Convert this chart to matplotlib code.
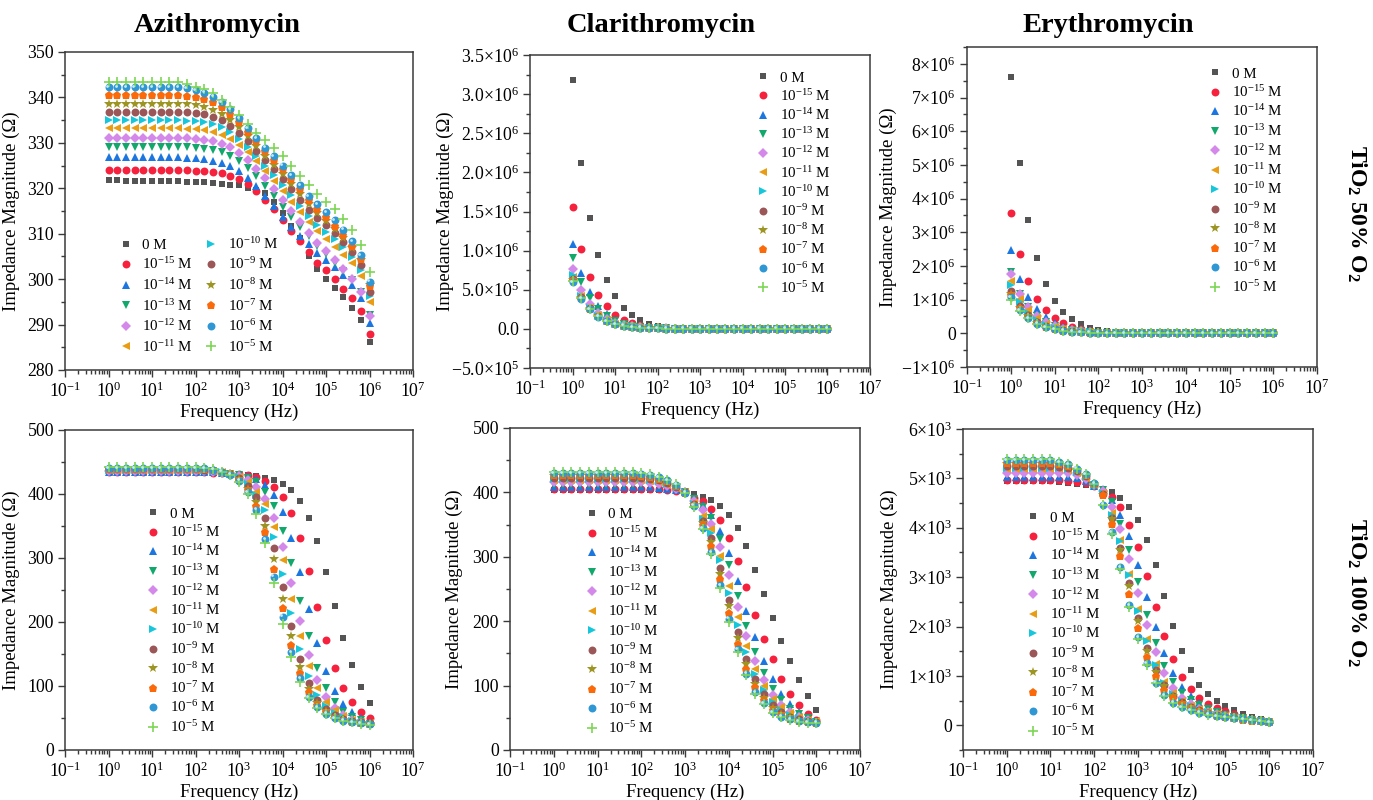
import numpy as np
import matplotlib
matplotlib.use('Agg')
import matplotlib.pyplot as plt
from matplotlib.ticker import MultipleLocator, LogLocator, FuncFormatter, NullFormatter
from matplotlib.transforms import ScaledTranslation

plt.rcParams['font.family'] = ['Liberation Serif', 'DejaVu Serif']
plt.rcParams['mathtext.fontset'] = 'custom'
plt.rcParams['mathtext.rm'] = 'Liberation Serif'
plt.rcParams['mathtext.it'] = 'Liberation Serif:italic'
plt.rcParams['mathtext.bf'] = 'Liberation Serif:bold'

# ---------------- data ----------------
freq = [1.0, 1.585, 2.512, 3.981, 6.310, 10.0, 15.85, 25.12, 39.81, 63.10,
        100.0, 158.5, 251.2, 398.1, 631.0, 1000.0, 1585.0, 2512.0, 3981.0, 6310.0,
        1.0e4, 1.585e4, 2.512e4, 3.981e4, 6.310e4, 1.0e5, 1.585e5, 2.512e5, 3.981e5, 6.310e5, 1.0e6]

conc_labels = ['0 M', '10$^{-15}$ M', '10$^{-14}$ M', '10$^{-13}$ M', '10$^{-12}$ M', '10$^{-11}$ M',
               '10$^{-10}$ M', '10$^{-9}$ M', '10$^{-8}$ M', '10$^{-7}$ M', '10$^{-6}$ M', '10$^{-5}$ M']

drug_titles = ['Azithromycin', 'Clarithromycin', 'Erythromycin']
row_titles = ['TiO$_\\mathbf{2}$ 50% O$_\\mathbf{2}$', 'TiO$_\\mathbf{2}$ 100% O$_\\mathbf{2}$']

# Azithromycin, TiO2 50% O2 (Ohm)
az50 = [
    [321.8, 321.8, 321.7, 321.7, 321.7, 321.6, 321.6, 321.5, 321.5, 321.4, 321.4, 321.3, 321.2, 321.0, 320.8, 320.7, 320.1, 319.6, 318.9, 317.0, 314.5, 311.8, 309.0, 305.2, 302.2, 300.0, 298.1, 296.0, 293.7, 291.1, 286.2],
    [324.0, 324.0, 324.0, 324.0, 324.0, 324.0, 324.0, 324.0, 324.0, 324.0, 323.9, 323.8, 323.6, 323.3, 322.8, 322.0, 320.9, 319.4, 317.5, 315.4, 313.0, 310.6, 308.3, 306.0, 303.5, 302.0, 300.0, 297.9, 295.8, 293.0, 287.9],
    [326.8, 326.8, 326.8, 326.8, 326.8, 326.8, 326.8, 326.8, 326.8, 326.7, 326.6, 326.4, 326.1, 325.6, 324.8, 323.7, 322.2, 320.4, 318.3, 316.0, 313.6, 311.5, 309.5, 307.7, 305.8, 304.3, 302.7, 300.9, 298.7, 295.8, 290.4],
    [329.1, 329.1, 329.1, 329.1, 329.1, 329.1, 329.1, 329.1, 329.1, 329.0, 328.9, 328.7, 328.4, 327.9, 327.1, 326.0, 324.5, 322.6, 320.5, 318.2, 315.8, 313.6, 311.5, 309.5, 307.3, 305.5, 303.6, 301.8, 299.8, 297.2, 292.1],
    [331.1, 331.1, 331.1, 331.1, 331.1, 331.1, 331.1, 331.1, 331.1, 331.0, 330.9, 330.7, 330.4, 329.8, 329.0, 327.8, 326.2, 324.3, 322.2, 319.9, 317.5, 315.0, 312.5, 310.2, 308.0, 306.1, 304.2, 302.2, 300.0, 297.2, 291.9],
    [333.2, 333.2, 333.2, 333.2, 333.2, 333.2, 333.2, 333.2, 333.2, 333.1, 333.0, 332.8, 332.4, 331.8, 330.9, 329.6, 327.9, 325.9, 323.8, 321.6, 319.3, 317.0, 314.7, 312.5, 310.6, 308.9, 307.1, 305.4, 303.6, 300.6, 295.0],
    [335.0, 335.0, 335.0, 335.0, 335.0, 335.0, 335.0, 335.0, 335.0, 334.9, 334.8, 334.5, 334.1, 333.4, 332.4, 330.9, 329.1, 327.1, 325.0, 322.9, 320.7, 318.5, 316.2, 314.0, 312.0, 310.4, 308.8, 307.0, 304.8, 302.0, 296.2],
    [336.9, 336.9, 336.9, 336.9, 336.9, 336.9, 336.9, 336.9, 336.9, 336.8, 336.6, 336.3, 335.8, 335.0, 333.8, 332.2, 330.3, 328.3, 326.2, 324.2, 322.0, 319.8, 317.5, 315.3, 313.4, 312.0, 310.2, 308.2, 306.0, 303.1, 297.2],
    [338.6, 338.6, 338.6, 338.6, 338.6, 338.6, 338.6, 338.6, 338.6, 338.5, 338.3, 337.9, 337.3, 336.4, 335.1, 333.4, 331.4, 329.3, 327.2, 325.2, 323.2, 321.0, 318.8, 316.5, 314.6, 312.8, 311.0, 309.0, 306.8, 304.3, 298.7],
    [340.5, 340.5, 340.5, 340.5, 340.5, 340.5, 340.5, 340.5, 340.5, 340.4, 340.1, 339.6, 338.9, 337.9, 336.4, 334.5, 332.4, 330.3, 328.2, 326.2, 324.2, 322.0, 319.8, 317.4, 315.5, 313.6, 311.8, 309.7, 307.3, 304.5, 298.6],
    [342.2, 342.2, 342.2, 342.2, 342.2, 342.2, 342.2, 342.2, 342.2, 342.0, 341.6, 341.0, 340.2, 339.0, 337.4, 335.4, 333.2, 331.0, 328.9, 327.1, 325.0, 322.9, 320.7, 318.3, 316.5, 314.7, 313.0, 310.9, 308.4, 305.3, 299.4],
    [343.5, 343.5, 343.5, 343.5, 343.5, 343.5, 343.5, 343.5, 343.5, 343.0, 342.4, 341.8, 340.9, 339.5, 338.0, 336.2, 334.1, 332.2, 330.6, 328.8, 327.2, 325.0, 322.8, 320.7, 318.7, 317.0, 315.4, 313.2, 310.8, 307.5, 301.6],
]

# Clarithromycin, TiO2 50% O2 (x10^6 Ohm)
cl50 = [
    [3.18, 2.12, 1.42, 0.945, 0.628, 0.414, 0.273, 0.175, 0.115, 0.068, 0.040, 0.025, 0.016, 0.010, 0.0065, 0.0042, 0.0027, 0.0017, 0.0011, 0.0007, 0.0005, 0.0003, 0.0002, 0.0001, 0.0001, 0.0001, 0.0, 0.0, 0.0, 0.0, 0.0],
    [1.555, 1.02, 0.667, 0.436, 0.286, 0.180, 0.115, 0.070, 0.045, 0.028, 0.018, 0.011, 0.007, 0.0045, 0.003, 0.002, 0.0012, 0.0008, 0.0005, 0.0003, 0.0002, 0.0001, 0.0001, 0.0, 0.0, 0.0, 0.0, 0.0, 0.0, 0.0, 0.0],
    [1.085, 0.714, 0.466, 0.295, 0.188, 0.118, 0.074, 0.046, 0.029, 0.018, 0.011, 0.007, 0.0045, 0.003, 0.002, 0.0012, 0.0008, 0.0005, 0.0003, 0.0002, 0.0001, 0.0001, 0.0, 0.0, 0.0, 0.0, 0.0, 0.0, 0.0, 0.0, 0.0],
    [0.906, 0.594, 0.389, 0.252, 0.160, 0.100, 0.063, 0.040, 0.025, 0.016, 0.010, 0.006, 0.004, 0.0025, 0.0016, 0.001, 0.0006, 0.0004, 0.0002, 0.0001, 0.0001, 0.0, 0.0, 0.0, 0.0, 0.0, 0.0, 0.0, 0.0, 0.0, 0.0],
    [0.765, 0.496, 0.316, 0.200, 0.128, 0.081, 0.051, 0.032, 0.020, 0.013, 0.008, 0.005, 0.003, 0.002, 0.0013, 0.0008, 0.0005, 0.0003, 0.0002, 0.0001, 0.0001, 0.0, 0.0, 0.0, 0.0, 0.0, 0.0, 0.0, 0.0, 0.0, 0.0],
    [0.660, 0.420, 0.270, 0.172, 0.108, 0.068, 0.043, 0.027, 0.017, 0.011, 0.007, 0.0045, 0.003, 0.002, 0.0012, 0.0008, 0.0005, 0.0003, 0.0002, 0.0001, 0.0001, 0.0, 0.0, 0.0, 0.0, 0.0, 0.0, 0.0, 0.0, 0.0, 0.0],
    [0.690, 0.425, 0.272, 0.170, 0.106, 0.066, 0.042, 0.026, 0.016, 0.010, 0.0065, 0.004, 0.0026, 0.0016, 0.001, 0.0007, 0.0004, 0.0003, 0.0002, 0.0001, 0.0001, 0.0, 0.0, 0.0, 0.0, 0.0, 0.0, 0.0, 0.0, 0.0, 0.0],
    [0.640, 0.405, 0.262, 0.166, 0.104, 0.065, 0.041, 0.026, 0.016, 0.010, 0.0064, 0.004, 0.0025, 0.0016, 0.001, 0.0006, 0.0004, 0.0003, 0.0002, 0.0001, 0.0001, 0.0, 0.0, 0.0, 0.0, 0.0, 0.0, 0.0, 0.0, 0.0, 0.0],
    [0.620, 0.395, 0.258, 0.163, 0.102, 0.064, 0.040, 0.025, 0.016, 0.010, 0.0063, 0.004, 0.0025, 0.0016, 0.001, 0.0006, 0.0004, 0.0003, 0.0002, 0.0001, 0.0001, 0.0, 0.0, 0.0, 0.0, 0.0, 0.0, 0.0, 0.0, 0.0, 0.0],
    [0.630, 0.398, 0.258, 0.163, 0.102, 0.064, 0.040, 0.025, 0.016, 0.010, 0.0063, 0.004, 0.0025, 0.0016, 0.001, 0.0006, 0.0004, 0.0003, 0.0002, 0.0001, 0.0001, 0.0, 0.0, 0.0, 0.0, 0.0, 0.0, 0.0, 0.0, 0.0, 0.0],
    [0.600, 0.385, 0.250, 0.158, 0.099, 0.062, 0.039, 0.024, 0.015, 0.0095, 0.006, 0.0038, 0.0024, 0.0015, 0.001, 0.0006, 0.0004, 0.0002, 0.0001, 0.0001, 0.0, 0.0, 0.0, 0.0, 0.0, 0.0, 0.0, 0.0, 0.0, 0.0, 0.0],
    [0.610, 0.390, 0.252, 0.160, 0.100, 0.063, 0.040, 0.025, 0.0155, 0.0098, 0.0062, 0.0039, 0.0025, 0.0016, 0.001, 0.0006, 0.0004, 0.0002, 0.0001, 0.0001, 0.0, 0.0, 0.0, 0.0, 0.0, 0.0, 0.0, 0.0, 0.0, 0.0, 0.0],
]

# Erythromycin, TiO2 50% O2 (x10^6 Ohm)
er50 = [
    [7.62, 5.07, 3.37, 2.23, 1.46, 0.96, 0.64, 0.42, 0.27, 0.17, 0.11, 0.07, 0.045, 0.03, 0.02, 0.012, 0.008, 0.005, 0.003, 0.002, 0.001, 0.0007, 0.0004, 0.0002, 0.0001, 0.0, 0.0, 0.0, 0.0, 0.0, 0.0],
    [3.57, 2.35, 1.56, 1.03, 0.69, 0.46, 0.30, 0.19, 0.12, 0.08, 0.05, 0.03, 0.02, 0.013, 0.008, 0.005, 0.003, 0.002, 0.001, 0.0006, 0.0004, 0.0002, 0.0001, 0.0, 0.0, 0.0, 0.0, 0.0, 0.0, 0.0, 0.0],
    [2.46, 1.62, 1.07, 0.71, 0.47, 0.30, 0.19, 0.12, 0.08, 0.05, 0.03, 0.02, 0.013, 0.008, 0.005, 0.003, 0.002, 0.001, 0.0006, 0.0004, 0.0002, 0.0001, 0.0, 0.0, 0.0, 0.0, 0.0, 0.0, 0.0, 0.0, 0.0],
    [1.81, 1.18, 0.78, 0.51, 0.33, 0.21, 0.14, 0.09, 0.055, 0.035, 0.022, 0.014, 0.009, 0.006, 0.004, 0.0025, 0.0015, 0.001, 0.0006, 0.0004, 0.0002, 0.0001, 0.0, 0.0, 0.0, 0.0, 0.0, 0.0, 0.0, 0.0, 0.0],
    [1.75, 1.16, 0.79, 0.52, 0.34, 0.22, 0.14, 0.09, 0.058, 0.037, 0.024, 0.015, 0.01, 0.006, 0.004, 0.0025, 0.0015, 0.001, 0.0006, 0.0004, 0.0002, 0.0001, 0.0, 0.0, 0.0, 0.0, 0.0, 0.0, 0.0, 0.0, 0.0],
    [1.56, 1.03, 0.68, 0.44, 0.29, 0.19, 0.12, 0.08, 0.05, 0.032, 0.02, 0.013, 0.008, 0.005, 0.003, 0.002, 0.001, 0.0006, 0.0004, 0.0002, 0.0001, 0.0, 0.0, 0.0, 0.0, 0.0, 0.0, 0.0, 0.0, 0.0, 0.0],
    [1.43, 0.93, 0.61, 0.40, 0.26, 0.17, 0.11, 0.07, 0.045, 0.029, 0.018, 0.012, 0.007, 0.0045, 0.003, 0.002, 0.001, 0.0006, 0.0004, 0.0002, 0.0001, 0.0, 0.0, 0.0, 0.0, 0.0, 0.0, 0.0, 0.0, 0.0, 0.0],
    [1.26, 0.81, 0.53, 0.34, 0.22, 0.14, 0.09, 0.058, 0.037, 0.024, 0.015, 0.01, 0.006, 0.004, 0.0025, 0.0015, 0.001, 0.0006, 0.0004, 0.0002, 0.0001, 0.0, 0.0, 0.0, 0.0, 0.0, 0.0, 0.0, 0.0, 0.0, 0.0],
    [1.18, 0.76, 0.50, 0.32, 0.21, 0.13, 0.085, 0.055, 0.035, 0.022, 0.014, 0.009, 0.006, 0.004, 0.0025, 0.0015, 0.001, 0.0006, 0.0004, 0.0002, 0.0001, 0.0, 0.0, 0.0, 0.0, 0.0, 0.0, 0.0, 0.0, 0.0, 0.0],
    [1.15, 0.74, 0.49, 0.31, 0.20, 0.13, 0.083, 0.053, 0.034, 0.022, 0.014, 0.009, 0.006, 0.004, 0.0025, 0.0015, 0.001, 0.0006, 0.0004, 0.0002, 0.0001, 0.0, 0.0, 0.0, 0.0, 0.0, 0.0, 0.0, 0.0, 0.0, 0.0],
    [1.08, 0.69, 0.45, 0.29, 0.19, 0.12, 0.078, 0.05, 0.032, 0.02, 0.013, 0.008, 0.005, 0.0035, 0.002, 0.0013, 0.0008, 0.0005, 0.0003, 0.0002, 0.0001, 0.0, 0.0, 0.0, 0.0, 0.0, 0.0, 0.0, 0.0, 0.0, 0.0],
    [1.00, 0.67, 0.44, 0.28, 0.18, 0.115, 0.074, 0.048, 0.03, 0.019, 0.012, 0.008, 0.005, 0.0033, 0.002, 0.0013, 0.0008, 0.0005, 0.0003, 0.0002, 0.0001, 0.0, 0.0, 0.0, 0.0, 0.0, 0.0, 0.0, 0.0, 0.0, 0.0],
]

# Azithromycin, TiO2 100% O2 (Ohm)
az100 = [
    [433.0, 433.0, 433.0, 433.0, 433.0, 433.0, 433.0, 433.0, 433.0, 433.0, 433.0, 433.0, 432.5, 432.0, 431.5, 431.0, 429.5, 427.7, 425.6, 422.5, 416.0, 405.7, 389.0, 362.7, 326.0, 278.8, 225.3, 175.0, 133.2, 99.0, 73.9],
    [434.0, 434.0, 434.0, 434.0, 434.0, 434.0, 434.0, 434.0, 434.0, 434.0, 434.0, 434.0, 433.5, 432.5, 431.5, 430.5, 430.0, 426.6, 421.0, 411.0, 395.0, 370.0, 330.7, 280.0, 223.7, 171.4, 127.9, 96.4, 74.4, 59.7, 49.3],
    [435.0, 435.0, 435.0, 435.0, 435.0, 435.0, 435.0, 435.0, 435.0, 435.0, 435.0, 435.0, 434.5, 433.0, 431.5, 430.0, 428.0, 424.0, 413.5, 397.8, 371.5, 331.3, 278.8, 219.6, 166.7, 123.7, 92.8, 71.9, 58.6, 50.3, 44.0],
    [437.0, 437.0, 437.0, 437.0, 437.0, 437.0, 437.0, 437.0, 437.0, 437.0, 437.0, 436.5, 435.5, 433.5, 431.5, 429.0, 425.0, 418.7, 403.0, 380.5, 342.8, 292.0, 232.7, 177.7, 128.9, 96.4, 74.4, 59.7, 51.9, 46.7, 41.4],
    [435.5, 435.5, 435.5, 435.5, 435.5, 435.5, 435.5, 435.5, 435.5, 435.5, 435.5, 435.5, 434.5, 433.0, 431.0, 428.0, 422.0, 410.8, 392.6, 362.7, 317.6, 260.5, 201.3, 148.9, 109.6, 82.2, 65.0, 54.5, 47.6, 44.0, 41.4],
    [437.5, 437.5, 437.5, 437.5, 437.5, 437.5, 437.5, 437.5, 437.5, 437.5, 437.5, 437.0, 436.0, 434.0, 431.0, 427.0, 418.0, 403.0, 384.7, 349.0, 296.6, 235.3, 177.7, 130.5, 96.4, 75.5, 62.4, 53.5, 47.6, 44.0, 42.0],
    [438.0, 438.0, 438.0, 438.0, 438.0, 438.0, 438.0, 438.0, 438.0, 438.0, 438.0, 437.5, 436.5, 434.0, 431.0, 426.0, 416.0, 398.0, 375.3, 332.2, 275.7, 213.4, 158.3, 116.4, 86.0, 68.7, 58.2, 51.4, 46.0, 42.5, 41.0],
    [438.5, 438.5, 438.5, 438.5, 438.5, 438.5, 438.5, 438.5, 438.5, 438.5, 438.5, 438.0, 437.0, 434.5, 431.0, 425.0, 412.0, 395.0, 362.7, 315.6, 254.7, 194.5, 142.0, 104.3, 78.1, 63.4, 54.5, 48.5, 45.0, 43.0, 41.5],
    [439.0, 439.0, 439.0, 439.0, 439.0, 439.0, 439.0, 439.0, 439.0, 439.0, 439.0, 438.5, 437.0, 434.5, 430.5, 423.5, 408.0, 387.3, 350.6, 299.2, 236.3, 177.7, 129.4, 95.4, 72.8, 60.8, 52.0, 47.0, 44.5, 42.5, 41.0],
    [439.5, 439.5, 439.5, 439.5, 439.5, 439.5, 439.5, 439.5, 439.5, 439.5, 439.5, 439.0, 437.5, 434.5, 430.5, 422.5, 406.0, 382.0, 340.1, 283.5, 221.2, 164.6, 120.0, 90.1, 70.3, 58.6, 51.0, 46.5, 44.0, 42.0, 40.5],
    [440.5, 440.5, 440.5, 440.5, 440.5, 440.5, 440.5, 440.5, 440.5, 440.5, 440.5, 440.0, 438.0, 435.0, 430.0, 421.0, 403.0, 375.3, 329.7, 270.9, 208.0, 153.0, 112.1, 82.2, 66.5, 57.0, 50.0, 45.5, 43.5, 41.5, 40.0],
    [441.5, 441.5, 441.5, 441.5, 441.5, 441.5, 441.5, 441.5, 441.5, 441.5, 441.5, 441.0, 438.5, 435.0, 430.0, 419.5, 400.0, 369.0, 322.8, 260.5, 197.6, 144.7, 105.8, 80.7, 65.0, 56.0, 49.5, 45.0, 43.0, 41.0, 39.5],
]

# Clarithromycin, TiO2 100% O2 (Ohm)
cl100 = [
    [404.0, 404.0, 404.0, 404.0, 404.0, 404.0, 404.0, 404.0, 404.0, 404.0, 404.0, 404.0, 403.5, 403.0, 402.0, 400.5, 397.4, 393.2, 388.0, 379.1, 365.0, 344.7, 316.6, 280.2, 242.2, 204.7, 169.7, 138.4, 109.4, 83.3, 61.4],
    [406.0, 406.0, 406.0, 406.0, 406.0, 406.0, 406.0, 406.0, 406.0, 406.0, 406.0, 405.5, 405.0, 404.0, 402.5, 400.5, 392.0, 387.0, 375.0, 356.7, 329.7, 294.2, 252.5, 209.8, 172.3, 140.6, 110.9, 87.5, 70.3, 56.2, 47.3],
    [409.0, 409.0, 409.0, 409.0, 409.0, 409.0, 409.0, 409.0, 409.0, 409.0, 409.0, 408.5, 407.5, 406.0, 404.0, 400.5, 390.6, 381.2, 365.0, 340.0, 305.2, 261.9, 216.6, 175.0, 138.4, 110.9, 87.5, 70.8, 58.8, 51.0, 45.8],
    [412.0, 412.0, 412.0, 412.0, 412.0, 412.0, 412.0, 412.0, 412.0, 412.0, 412.0, 411.5, 410.0, 408.0, 405.0, 400.5, 389.5, 378.0, 359.8, 328.0, 286.9, 238.4, 193.1, 152.5, 120.3, 95.3, 77.0, 64.0, 55.2, 49.4, 43.1],
    [416.0, 416.0, 416.0, 416.0, 416.0, 416.0, 416.0, 416.0, 416.0, 416.0, 416.0, 415.0, 413.0, 410.0, 406.0, 400.5, 386.9, 372.8, 350.5, 315.6, 271.3, 222.8, 177.0, 138.4, 109.4, 84.8, 69.2, 58.8, 51.0, 46.9, 42.0],
    [419.0, 419.0, 419.0, 419.0, 419.0, 419.0, 419.0, 419.0, 419.0, 419.0, 418.5, 417.5, 415.5, 412.0, 407.0, 400.0, 384.3, 363.5, 342.6, 302.0, 255.1, 206.2, 161.4, 126.5, 99.4, 79.6, 66.6, 57.2, 51.0, 46.8, 44.7],
    [421.0, 421.0, 421.0, 421.0, 421.0, 421.0, 421.0, 421.0, 421.0, 421.0, 420.5, 419.5, 417.0, 413.5, 408.0, 400.0, 382.7, 359.3, 336.4, 294.7, 243.7, 194.2, 151.5, 118.7, 92.6, 74.4, 62.4, 54.1, 49.4, 45.8, 43.7],
    [423.0, 423.0, 423.0, 423.0, 423.0, 423.0, 423.0, 423.0, 423.0, 423.0, 422.5, 421.0, 418.5, 414.5, 408.5, 400.0, 381.7, 355.7, 328.6, 282.7, 232.2, 182.8, 141.1, 109.8, 86.4, 69.2, 58.8, 52.0, 47.9, 44.7, 43.2],
    [425.0, 425.0, 425.0, 425.0, 425.0, 425.0, 425.0, 425.0, 425.0, 425.0, 424.5, 423.0, 420.0, 416.0, 409.5, 400.0, 380.7, 353.1, 322.9, 273.9, 222.9, 173.4, 134.3, 103.1, 81.2, 65.6, 56.2, 50.5, 46.8, 44.2, 42.7],
    [427.0, 427.0, 427.0, 427.0, 427.0, 427.0, 427.0, 427.0, 427.0, 427.0, 426.0, 424.5, 421.5, 417.0, 410.5, 399.5, 380.1, 348.9, 316.6, 265.5, 213.5, 164.5, 126.5, 97.9, 77.0, 62.4, 54.1, 48.9, 45.8, 43.7, 42.1],
    [430.0, 430.0, 430.0, 430.0, 430.0, 430.0, 430.0, 430.0, 430.0, 430.0, 429.0, 427.5, 424.0, 419.0, 412.0, 399.5, 379.1, 344.7, 307.2, 255.7, 203.6, 156.2, 118.7, 90.0, 72.9, 58.8, 52.0, 47.9, 44.7, 43.2, 42.1],
    [431.0, 431.0, 431.0, 431.0, 431.0, 431.0, 431.0, 431.0, 431.0, 431.0, 430.0, 428.0, 424.5, 419.5, 412.5, 399.5, 378.1, 342.6, 303.6, 251.5, 199.4, 152.5, 116.1, 87.4, 70.8, 57.2, 51.0, 46.8, 44.2, 42.7, 41.6],
]

# Erythromycin, TiO2 100% O2 (Ohm)
er100 = [
    [4945, 4945, 4945, 4945, 4945, 4945, 4932, 4912, 4891, 4864, 4844, 4790, 4722, 4607, 4424, 4153, 3760, 3238, 2628, 2018, 1510, 1117, 826, 629, 494, 392, 304, 236, 168, 121, 87],
    [4966, 4966, 4966, 4966, 4966, 4966, 4966, 4955, 4935, 4900, 4850, 4742, 4627, 4417, 4065, 3604, 3014, 2391, 1815, 1341, 981, 744, 561, 439, 351, 284, 223, 168, 135, 100, 67],
    [5033, 5033, 5033, 5033, 5033, 5033, 5033, 5025, 5000, 4950, 4855, 4776, 4559, 4268, 3827, 3251, 2608, 1998, 1469, 1069, 778, 588, 453, 358, 284, 223, 182, 148, 121, 94, 67],
    [5081, 5081, 5081, 5081, 5081, 5081, 5081, 5070, 5035, 4970, 4860, 4760, 4519, 4085, 3543, 2892, 2235, 1659, 1198, 880, 656, 507, 405, 331, 263, 209, 168, 141, 114, 87, 67],
    [5115, 5115, 5115, 5115, 5115, 5115, 5115, 5100, 5060, 4985, 4865, 4742, 4424, 3977, 3367, 2689, 2032, 1490, 1069, 758, 554, 426, 338, 277, 223, 182, 148, 121, 100, 80, 60],
    [5183, 5183, 5183, 5183, 5183, 5183, 5183, 5160, 5100, 5010, 4870, 4710, 4290, 3760, 3070, 2360, 1745, 1245, 880, 645, 500, 395, 325, 268, 220, 185, 158, 130, 108, 88, 68],
    [5216, 5216, 5216, 5216, 5216, 5216, 5216, 5190, 5120, 5025, 4875, 4695, 4268, 3726, 3035, 2323, 1713, 1219, 860, 629, 487, 385, 317, 263, 216, 182, 155, 128, 107, 87, 67],
    [5250, 5250, 5250, 5250, 5250, 5250, 5240, 5210, 5140, 5040, 4880, 4674, 4200, 3590, 2879, 2167, 1557, 1117, 812, 602, 466, 372, 304, 250, 205, 172, 145, 121, 100, 82, 64],
    [5284, 5284, 5284, 5284, 5284, 5284, 5270, 5235, 5160, 5055, 4885, 4665, 4170, 3540, 2820, 2110, 1510, 1085, 790, 590, 456, 365, 298, 245, 200, 168, 141, 118, 98, 80, 63],
    [5318, 5318, 5318, 5318, 5318, 5318, 5300, 5260, 5180, 5070, 4890, 4654, 4085, 3421, 2662, 1964, 1388, 995, 724, 554, 439, 358, 292, 240, 197, 165, 138, 115, 95, 78, 62],
    [5372, 5372, 5372, 5372, 5372, 5372, 5332, 5284, 5196, 5081, 4898, 4471, 3909, 3197, 2438, 1781, 1253, 866, 609, 460, 372, 304, 257, 223, 189, 168, 148, 125, 104, 85, 66],
    [5399, 5399, 5399, 5399, 5399, 5399, 5340, 5290, 5200, 5085, 4895, 4451, 3880, 3160, 2400, 1750, 1230, 850, 600, 452, 366, 300, 252, 218, 186, 165, 145, 122, 102, 83, 65],
]

for _tbl in (az50, cl50, er50, az100, cl100, er100):
    assert len(_tbl) == 12
    for _r in _tbl:
        assert len(_r) == len(freq), len(_r)

# ---------------- styles ----------------
colors = ['#545454', '#f5213d', '#1b76e0', '#13a86b', '#d489ea', '#e99d14',
          '#16c7dc', '#9b5657', '#9c9524', '#fa6a0a', '#2f97d4', '#7dd655']
markers = ['s', 'o', '^', 'v', 'D', '<', '>', 'o', '*', 'p', 'o', '+']
msizes = [5.0, 5.7, 6.2, 6.2, 5.0, 6.2, 6.2, 5.7, 7.6, 6.3, 5.7, 7.0]

W, H = 1373, 800
fig = plt.figure(figsize=(W / 100, H / 100), dpi=100)

def rect(l, r, t, b):
    return [l / W, 1 - b / H, (r - l) / W, (b - t) / H]

panels = [
    dict(data=az50, scale=1.0, rect=rect(65, 413, 52, 370), ylim=(280, 350), major=10, minor=5,
         fmt='int', leg=(126, 243), ncol=2, ylabx=20, lsp=0.31, dy=7),
    dict(data=cl50, scale=1e6, rect=rect(530, 870, 55, 368), ylim=(-5e5, 3.5e6), major=5e5, minor=2.5e5,
         fmt='cl', leg=(763, 77), ncol=1, ylabx=454, lsp=0.22, dy=6),
    dict(data=er50, scale=1e6, rect=rect(967, 1317, 47, 367), ylim=(-1e6, 8.5e6), major=1e6, minor=5e5,
         fmt='sci', leg=(1215, 72), ncol=1, ylabx=897, lsp=0.24, dy=5),
    dict(data=az100, scale=1.0, rect=rect(65, 413, 430, 750), ylim=(0, 500), major=100, minor=50,
         fmt='int', leg=(153, 513), ncol=1, ylabx=20, lsp=0.24, dy=6),
    dict(data=cl100, scale=1.0, rect=rect(510, 860, 428, 750), ylim=(0, 500), major=100, minor=50,
         fmt='int', leg=(592, 514), ncol=1, ylabx=463, lsp=0.24, dy=6),
    dict(data=er100, scale=1.0, rect=rect(963, 1313, 429, 750), ylim=(-500, 6000), major=1000, minor=500,
         fmt='sci', leg=(1033, 516), ncol=1, ylabx=898, lsp=0.24, dy=5),
]


def fmt_cl(v, p):
    if abs(v) < 1:
        return '0.0'
    e = int(np.floor(np.log10(abs(v)) + 1e-9))
    m = v / 10 ** e
    return r'$%s{\times}10^{%d}$' % (('%.1f' % m).replace('-', '\u2212'), e)


def fmt_int_sci(v, p):
    if abs(v) < 1:
        return '0'
    e = int(np.floor(np.log10(abs(v)) + 1e-9))
    m = v / 10 ** e
    return r'$%s{\times}10^{%d}$' % (('%d' % round(m)).replace('-', '\u2212'), e)


def fmt_int(v, p):
    return '%d' % v


spine_c = '#3a3a3a'
leg_fs = 10.8
hl = 1.0
axes_list = []
for k, P in enumerate(panels):
    ax = fig.add_axes(P['rect'])
    axes_list.append(ax)
    ax.set_xscale('log')
    ax.set_xlim(1e-1, 1e7)
    ax.set_ylim(*P['ylim'])
    handles = []
    for j in range(12):
        yv = np.asarray(P['data'][j], dtype=float) * P['scale']
        mew = 1.2 if markers[j] == '+' else 0.0
        ln, = ax.plot(freq, yv, linestyle='none', marker=markers[j], ms=msizes[j],
                      color=colors[j], mec=colors[j], mew=mew, label=conc_labels[j], zorder=3 + j * 0.01)
        handles.append(ln)
        if j == 10:
            off = ScaledTranslation(-1.0 / 72, 1.0 / 72, fig.dpi_scale_trans)
            ax.plot(freq, yv, linestyle='none', marker='o', ms=2.0, color='#c4e8fb', mew=0,
                    transform=ax.transData + off, zorder=3.2)
    for s in ax.spines.values():
        s.set_color(spine_c)
        s.set_linewidth(1.1)
    ax.xaxis.set_major_locator(LogLocator(base=10, numticks=20))
    ax.xaxis.set_minor_locator(LogLocator(base=10, subs=np.arange(2, 10), numticks=20))
    ax.xaxis.set_minor_formatter(NullFormatter())
    ax.yaxis.set_major_locator(MultipleLocator(P['major']))
    ax.yaxis.set_minor_locator(MultipleLocator(P['minor']))
    if P['fmt'] == 'cl':
        ax.yaxis.set_major_formatter(FuncFormatter(fmt_cl))
    elif P['fmt'] == 'sci':
        ax.yaxis.set_major_formatter(FuncFormatter(fmt_int_sci))
    else:
        ax.yaxis.set_major_formatter(FuncFormatter(fmt_int))
    ax.tick_params(which='both', direction='out', top=False, right=False, colors=spine_c,
                   labelcolor='black', labelsize=12.8, width=1.0)
    ax.tick_params(which='major', length=5, pad=3)
    ax.tick_params(which='minor', length=3)
    ax.set_xlabel('Frequency (Hz)', fontsize=13.5, labelpad=2)
    ax.set_ylabel('Impedance Magnitude (\u03a9)', fontsize=13.5)
    l, b, w, h = P['rect']
    ax.yaxis.set_label_coords((P['ylabx'] / W - l) / w, 0.5)

    mx, my = P['leg']
    fs_px = leg_fs * 100 / 72
    anchor = ((mx - hl * fs_px / 2) / W, 1 - (my - P['dy']) / H)
    ax.legend(handles=handles, labels=conc_labels, loc='upper left', bbox_to_anchor=anchor,
              bbox_transform=fig.transFigure, frameon=False, fontsize=leg_fs, ncol=P['ncol'],
              handlelength=hl, handletextpad=0.6, labelspacing=P['lsp'], borderpad=0,
              borderaxespad=0, columnspacing=0.7, numpoints=1)

# titles
title_x = [217, 661, 1108]
for c, t in enumerate(drug_titles):
    fig.text(title_x[c] / W, 1 - 26 / H, t, ha='center', va='center', fontsize=20.5, fontweight='bold')

fig.text(1357 / W, 1 - 213 / H, row_titles[0], rotation=-90, ha='center', va='center',
         fontsize=17, fontweight='bold')
fig.text(1357 / W, 1 - 592 / H, row_titles[1], rotation=-90, ha='center', va='center',
         fontsize=17, fontweight='bold')

fig.savefig('out.png', dpi=100)
